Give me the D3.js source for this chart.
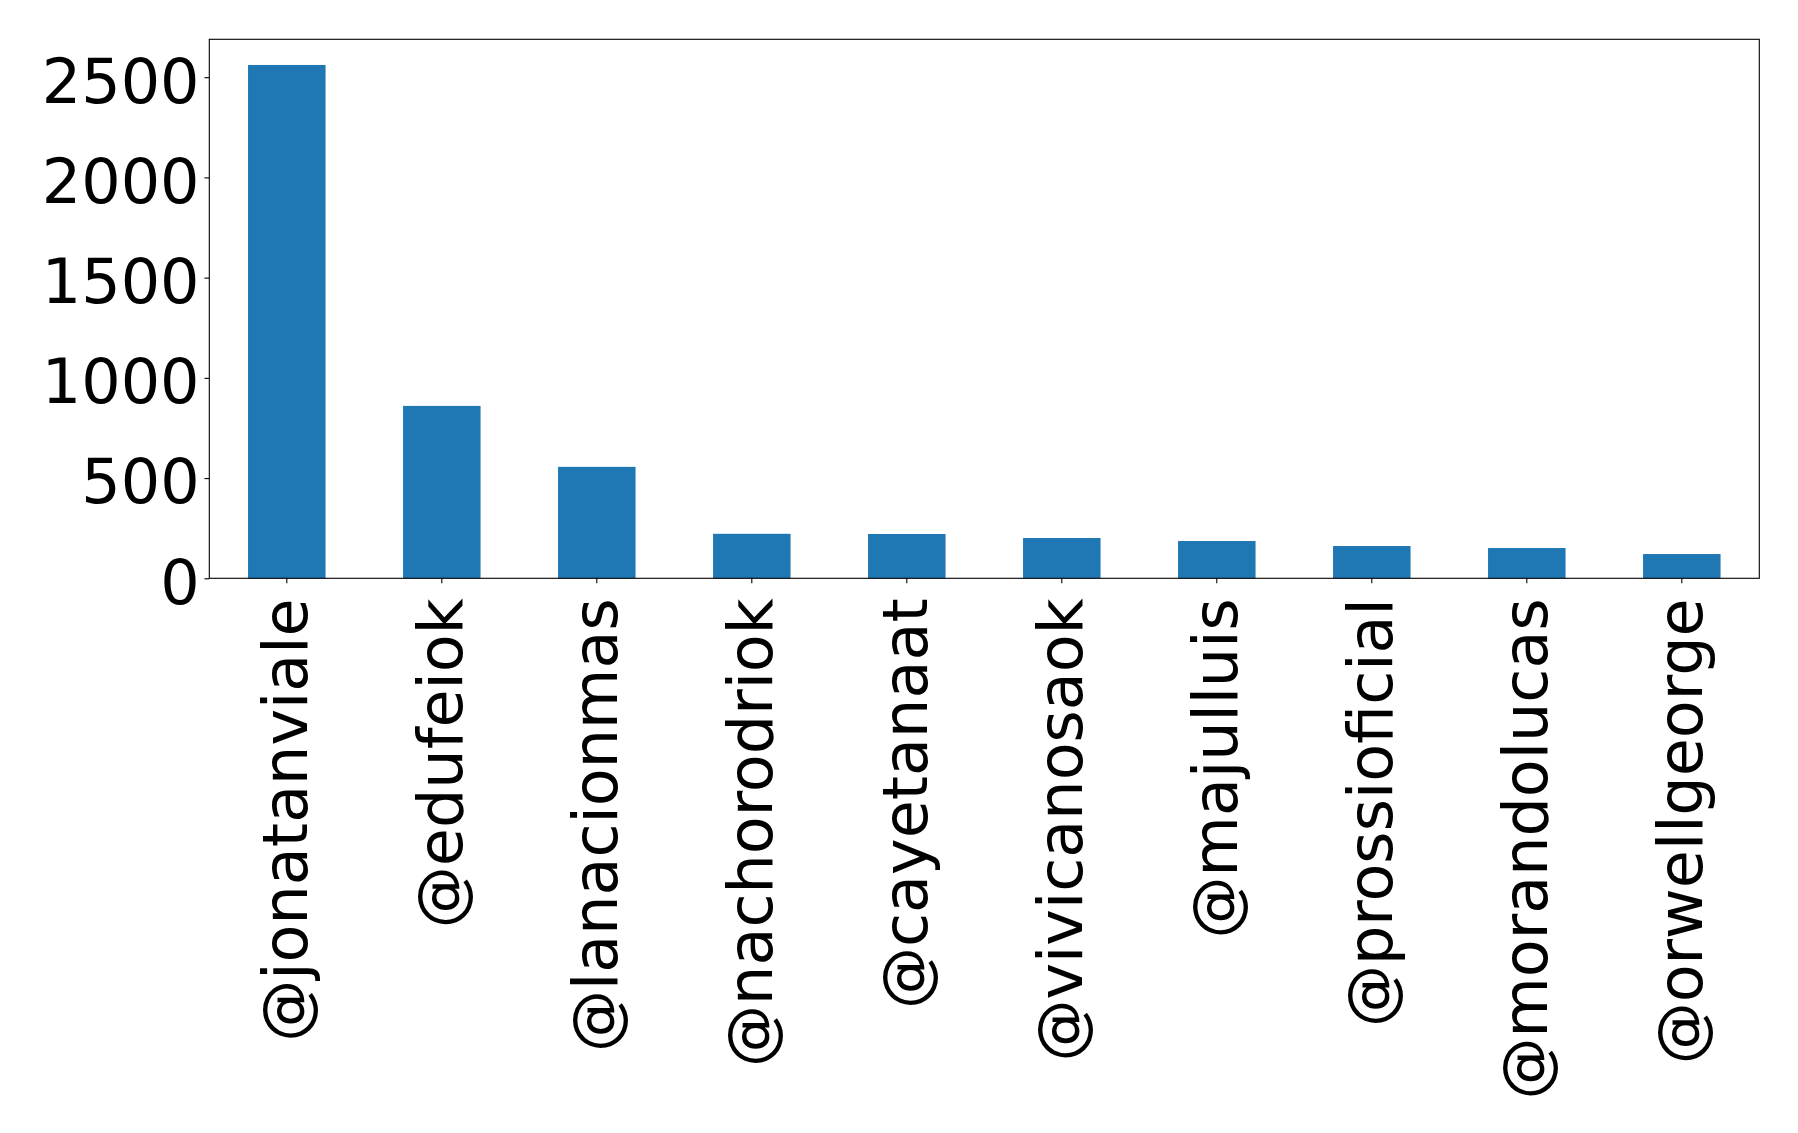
<!DOCTYPE html>
<html>
<head>
<meta charset="utf-8">
<script src="https://cdn.jsdelivr.net/npm/d3@7"></script>
<style>
html, body { margin: 0; padding: 0; background: #fff; }
svg { display: block; }
text { font-family: "DejaVu Sans", sans-serif; fill: #000; }
</style>
</head>
<body>
<svg id="chart" width="1798" height="1133"></svg>
<script>
const categories = ["@jonatanviale", "@edufeiok", "@lanacionmas", "@nachorodriok", "@cayetanaat",
  "@vivicanosaok", "@majulluis", "@prossioficial", "@morandolucas", "@orwellgeorge"];
const values = [2561, 860, 556, 222, 221, 201, 186, 161, 151, 121];
const yTicks = [0, 500, 1000, 1500, 2000, 2500];

(function () {
const W = 1798, H = 1133;
const pLeft = 209.3, pRight = 1759.3, pTop = 39.3, pBottom = 578.3;
const fontSize = 62;
const tickLen = 4.86;

const svg = d3.select("#chart");
svg.append("rect").attr("width", W).attr("height", H).attr("fill", "#fff");

const x = d3.scaleBand().domain(categories).range([pLeft, pRight]).paddingInner(0.5).paddingOuter(0.25);
const y = d3.scaleLinear().domain([0, d3.max(values) * 1.05]).range([pBottom, pTop]);

svg.append("g").selectAll("rect").data(categories).join("rect")
  .attr("x", d => x(d))
  .attr("width", x.bandwidth())
  .attr("y", (d, i) => y(values[i]))
  .attr("height", (d, i) => pBottom - y(values[i]))
  .attr("fill", "#1f77b4");

// Y axis
const yAxis = d3.axisLeft(y).tickValues(yTicks).tickSize(tickLen).tickPadding(4.86).tickFormat(d3.format("d"));
const gy = svg.append("g").attr("transform", `translate(${pLeft},0)`).call(yAxis);
gy.select(".domain").remove();
gy.selectAll(".tick line").attr("stroke", "#000").attr("stroke-width", 1.1);
gy.selectAll(".tick text")
  .attr("font-size", fontSize)
  .attr("font-family", "DejaVu Sans, sans-serif")
  .attr("fill", "#000")
  .attr("dy", "0.4em");

// X axis
const xAxis = d3.axisBottom(x).tickSize(tickLen).tickSizeOuter(0);
const gx = svg.append("g").attr("transform", `translate(0,${pBottom})`).call(xAxis);
gx.select(".domain").remove();
gx.selectAll(".tick line").attr("stroke", "#000").attr("stroke-width", 1.1);
gx.selectAll(".tick text")
  .attr("font-size", fontSize)
  .attr("font-family", "DejaVu Sans, sans-serif")
  .attr("fill", "#000")
  .attr("text-anchor", "end")
  .attr("x", 0)
  .attr("y", 0)
  .attr("dy", "0.33em")
  .attr("transform", "translate(0,20) rotate(-90)");

// Frame
svg.append("rect")
  .attr("x", pLeft).attr("y", pTop)
  .attr("width", pRight - pLeft).attr("height", pBottom - pTop)
  .attr("fill", "none").attr("stroke", "#000").attr("stroke-width", 1.1);
})();
</script>
</body>
</html>
